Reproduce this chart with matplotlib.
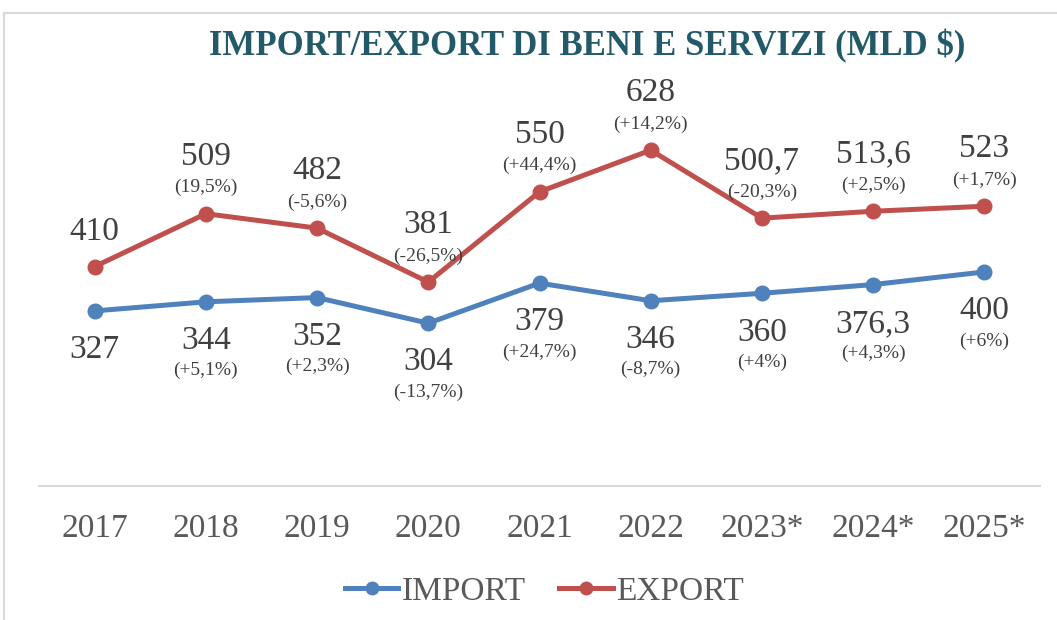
import matplotlib.pyplot as plt
from matplotlib.lines import Line2D
from matplotlib.patches import Rectangle

years = ["2017", "2018", "2019", "2020", "2021", "2022", "2023*", "2024*", "2025*"]
import_vals = [327, 344, 352, 304, 379, 346, 360, 376.3, 400]
export_vals = [410, 509, 482, 381, 550, 628, 500.7, 513.6, 523]
import_pct = [None, "(+5,1%)", "(+2,3%)", "(-13,7%)", "(+24,7%)", "(-8,7%)", "(+4%)", "(+4,3%)", "(+6%)"]
export_pct = [None, "(19,5%)", "(-5,6%)", "(-26,5%)", "(+44,4%)", "(+14,2%)", "(-20,3%)", "(+2,5%)", "(+1,7%)"]

blue = "#4F81BD"
red = "#C0504D"
txt = "#404040"
serif = "Liberation Serif"


def fmt(v):
    return f"{v:g}".replace(".", ",")


fig = plt.figure(figsize=(10.57, 6.2), dpi=100)
fig.patches.append(Rectangle((4 / 1057, -0.1), 1.2, (620 - 13) / 620 + 0.1,
                             transform=fig.transFigure, fill=False,
                             edgecolor="#D9D9D9", linewidth=1.5))

ax = fig.add_axes([39 / 1057, 0.2169, 1001 / 1057, 0.6029])
x = list(range(len(years)))
ax.plot(x, import_vals, color=blue, lw=3.6, marker="o", ms=10.5, solid_capstyle="round")
ax.plot(x, export_vals, color=red, lw=3.6, marker="o", ms=10.5, solid_capstyle="round")
ax.set_xlim(-0.5, len(years) - 0.5)
ax.set_ylim(0, 700)

for i in x:
    # export labels above
    if export_pct[i]:
        ax.annotate(fmt(export_vals[i]), (i, export_vals[i]), xytext=(0, 57),
                    textcoords="offset pixels", ha="center", va="center",
                    fontsize=24, color=txt, family=serif)
        ax.annotate(export_pct[i], (i, export_vals[i]), xytext=(0, 26),
                    textcoords="offset pixels", ha="center", va="center",
                    fontsize=14, color=txt, family=serif)
    else:
        ax.annotate(fmt(export_vals[i]), (i, export_vals[i]), xytext=(0, 35),
                    textcoords="offset pixels", ha="center", va="center",
                    fontsize=24, color=txt, family=serif)
    # import labels below
    ax.annotate(fmt(import_vals[i]), (i, import_vals[i]), xytext=(0, -39),
                textcoords="offset pixels", ha="center", va="center",
                fontsize=24, color=txt, family=serif)
    if import_pct[i]:
        ax.annotate(import_pct[i], (i, import_vals[i]), xytext=(0, -69),
                    textcoords="offset pixels", ha="center", va="center",
                    fontsize=14, color=txt, family=serif)

for s in ["left", "right", "top"]:
    ax.spines[s].set_visible(False)
ax.spines["bottom"].set_color("#D9D9D9")
ax.spines["bottom"].set_linewidth(1.5)
ax.set_yticks([])
ax.set_xticks(x)
ax.set_xticklabels(years, fontsize=24, color="#595959", family=serif)
ax.tick_params(axis="x", length=0, pad=20)
ax.patch.set_visible(False)

fig.text(587 / 1057, (620 - 46) / 620, "IMPORT/EXPORT DI BENI E SERVIZI (MLD $)",
         ha="center", va="center", fontsize=25, fontweight="bold",
         color="#235A6A", family=serif)

handles = [Line2D([], [], color=blue, lw=3.6, marker="o", ms=9),
           Line2D([], [], color=red, lw=3.6, marker="o", ms=9)]
leg = fig.legend(handles, ["IMPORT", "EXPORT"], loc="center", ncol=2,
                 bbox_to_anchor=(0.515, 0.046), bbox_transform=fig.transFigure,
                 frameon=False, handlelength=1.6, handletextpad=0.1,
                 columnspacing=1.0, borderpad=0,
                 prop={"family": serif, "size": 24})
for t in leg.get_texts():
    t.set_color("#595959")

fig.savefig("out.png", dpi=100)
